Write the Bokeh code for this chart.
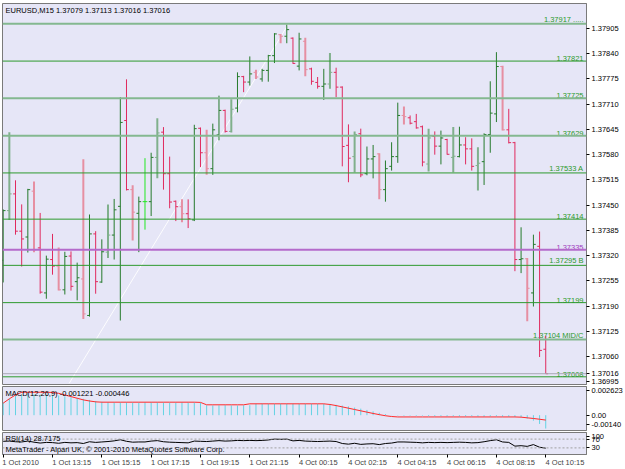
import numpy as np
from bokeh.plotting import figure
from bokeh.layouts import column
from bokeh.models import (FixedTicker, Range1d, Span, Label, ColumnDataSource,
                          PrintfTickFormatter, LinearAxis)
from bokeh.embed import file_html
from bokeh.resources import INLINE
from bokeh.core.properties import value

# ---------------- data ----------------
chart_title = "EURUSD,M15  1.37079 1.37113 1.37016 1.37016"
macd_title = "MACD(12,26,9) -0.001221 -0.000446"
rsi_title = "RSI(14) 28.7175"
copyright_text = "MetaTrader - Alpari UK, \u00a9 2001-2010 MetaQuotes Software Corp."

time_tick_bars = [0, 8, 16, 24, 32, 40, 48, 56, 64, 72, 80, 88]
time_tick_labels = ["1 Oct 2010", "1 Oct 13:15", "1 Oct 15:15", "1 Oct 17:15",
                    "1 Oct 19:15", "1 Oct 21:15", "4 Oct 00:15", "4 Oct 02:15",
                    "4 Oct 04:15", "4 Oct 06:15", "4 Oct 08:15", "4 Oct 10:15"]

price_ticks = [1.36995, 1.37060, 1.37125, 1.37190, 1.37255, 1.37320, 1.37385,
               1.37450, 1.37515, 1.37580, 1.37645, 1.37710, 1.37775, 1.37840,
               1.37905]

opens = [1.37308, 1.37436, 1.37479, 1.37383, 1.37368, 1.37486, 1.37340, 1.37224, 1.37310, 1.37293,
         1.37232, 1.37319, 1.37253, 1.37260, 1.37166, 1.37376, 1.37252, 1.37329, 1.37373, 1.37447,
         1.37668, 1.37490, 1.37429, 1.37459, 1.37459, 1.37573, 1.37638, 1.37531, 1.37460, 1.37446,
         1.37428, 1.37412, 1.37648, 1.37585, 1.37544, 1.37631, 1.37694, 1.37640, 1.37700, 1.37781,
         1.37767, 1.37792, 1.37775, 1.37797, 1.37835, 1.37889, 1.37885, 1.37880, 1.37808, 1.37872,
         1.37801, 1.37766, 1.37756, 1.37762, 1.37792, 1.37754, 1.37604, 1.37575, 1.37634, 1.37531,
         1.37569, 1.37582, 1.37490, 1.37550, 1.37575, 1.37681, 1.37675, 1.37665, 1.37652, 1.37556,
         1.37627, 1.37602, 1.37619, 1.37573, 1.37575, 1.37605, 1.37595, 1.37552, 1.37562, 1.37632,
         1.37685, 1.37807, 1.37644, 1.37611, 1.37310, 1.37312, 1.37224, 1.37344, 1.37079]
highs = [1.37439, 1.37638, 1.37514, 1.37452, 1.37492, 1.37511, 1.37430, 1.37320, 1.37376, 1.37341,
         1.37330, 1.37331, 1.37302, 1.37568, 1.37426, 1.37383, 1.37362, 1.37452, 1.37466, 1.37728,
         1.37774, 1.37501, 1.37472, 1.37571, 1.37585, 1.37674, 1.37651, 1.37575, 1.37462, 1.37465,
         1.37465, 1.37657, 1.37650, 1.37644, 1.37660, 1.37732, 1.37696, 1.37723, 1.37792, 1.37783,
         1.37833, 1.37799, 1.37801, 1.37837, 1.37893, 1.37891, 1.37915, 1.37882, 1.37894, 1.37881,
         1.37804, 1.37780, 1.37801, 1.37842, 1.37804, 1.37756, 1.37658, 1.37640, 1.37647, 1.37601,
         1.37605, 1.37584, 1.37565, 1.37612, 1.37714, 1.37704, 1.37681, 1.37685, 1.37655, 1.37647,
         1.37640, 1.37642, 1.37621, 1.37651, 1.37652, 1.37625, 1.37622, 1.37599, 1.37635, 1.37769,
         1.37844, 1.37809, 1.37698, 1.37613, 1.37393, 1.37314, 1.37374, 1.37382, 1.37113]
lows = [1.37251, 1.37412, 1.37374, 1.37292, 1.37328, 1.37329, 1.37222, 1.37209, 1.37271, 1.37230,
        1.37220, 1.37230, 1.37205, 1.37157, 1.37163, 1.37222, 1.37250, 1.37314, 1.37310, 1.37153,
        1.37488, 1.37359, 1.37329, 1.37387, 1.37422, 1.37519, 1.37490, 1.37442, 1.37409, 1.37406,
        1.37391, 1.37409, 1.37548, 1.37528, 1.37528, 1.37617, 1.37637, 1.37637, 1.37689, 1.37741,
        1.37758, 1.37775, 1.37768, 1.37768, 1.37816, 1.37867, 1.37867, 1.37814, 1.37797, 1.37782,
        1.37760, 1.37750, 1.37721, 1.37750, 1.37728, 1.37550, 1.37509, 1.37535, 1.37522, 1.37527,
        1.37519, 1.37465, 1.37459, 1.37539, 1.37559, 1.37658, 1.37658, 1.37647, 1.37550, 1.37537,
        1.37580, 1.37555, 1.37580, 1.37535, 1.37573, 1.37555, 1.37539, 1.37488, 1.37502, 1.37585,
        1.37664, 1.37642, 1.37609, 1.37280, 1.37275, 1.37151, 1.37189, 1.37059, 1.37016]
closes = [1.37436, 1.37479, 1.37383, 1.37363, 1.37490, 1.37335, 1.37226, 1.37311, 1.37293, 1.37232,
          1.37318, 1.37241, 1.37263, 1.37170, 1.37376, 1.37253, 1.37330, 1.37373, 1.37438, 1.37663,
          1.37490, 1.37432, 1.37459, 1.37459, 1.37573, 1.37636, 1.37531, 1.37458, 1.37446, 1.37428,
          1.37415, 1.37647, 1.37585, 1.37544, 1.37644, 1.37694, 1.37640, 1.37697, 1.37781, 1.37767,
          1.37788, 1.37780, 1.37797, 1.37835, 1.37891, 1.37885, 1.37902, 1.37815, 1.37878, 1.37799,
          1.37769, 1.37756, 1.37762, 1.37792, 1.37754, 1.37601, 1.37571, 1.37632, 1.37528, 1.37569,
          1.37575, 1.37490, 1.37544, 1.37575, 1.37681, 1.37678, 1.37661, 1.37649, 1.37561, 1.37623,
          1.37602, 1.37623, 1.37581, 1.37576, 1.37605, 1.37595, 1.37550, 1.37558, 1.37632, 1.37687,
          1.37807, 1.37644, 1.37611, 1.37310, 1.37312, 1.37236, 1.37349, 1.37076, 1.37016]

level_prices = [1.37917, 1.37821, 1.37725, 1.37629, 1.37533, 1.37414, 1.37335,
                1.37295, 1.37199, 1.37104, 1.37008]
level_labels = ["1.37917 .....", "1.37821", "1.37725", "1.37629", "1.37533 A",
                "1.37414", "1.37335", "1.37295 B", "1.37199", "1.37104 MID/C", "1.37008"]

trend_bars = [10.7, 46.3]
trend_prices = [1.36991, 1.37917]

macd_main = [0.00115, 0.00150, 0.00178, 0.00188, 0.00189, 0.00189, 0.00188, 0.00188, 0.00186, 0.00180,
             0.00172, 0.00165, 0.00158, 0.00150, 0.00140, 0.00130, 0.00122, 0.00117, 0.00116, 0.00117,
             0.00118, 0.00116, 0.00115, 0.00116, 0.00117, 0.00118, 0.00116, 0.00115, 0.00116, 0.00117,
             0.00116, 0.00115, 0.00114, 0.00090, 0.00089, 0.00090, 0.00091, 0.00089, 0.00088, 0.00090,
             0.00091, 0.00105, 0.00106, 0.00105, 0.00104, 0.00105, 0.00106, 0.00105, 0.00104, 0.00105,
             0.00105, 0.00104, 0.00103, 0.00100, 0.00095, 0.00088, 0.00080, 0.00070, 0.00060, 0.00048,
             0.00035, 0.00022, 0.00010, 0.00002, -0.00003, -0.00005, -0.00004, -0.00006, -0.00005, -0.00008,
             -0.00010, -0.00009, -0.00011, -0.00010, -0.00012, -0.00011, -0.00010, -0.00012, -0.00013, -0.00012,
             -0.00011, -0.00013, -0.00014, -0.00015, -0.00018, -0.00030, -0.00050, -0.00080, -0.001221]
macd_signal = [0.00110, 0.00150, 0.00185, 0.00210, 0.00210, 0.00210, 0.00210, 0.00210, 0.00208, 0.00200,
               0.00185, 0.00170, 0.00155, 0.00140, 0.00130, 0.00122, 0.00119, 0.00119, 0.00119, 0.00119,
               0.00119, 0.00119, 0.00119, 0.00119, 0.00119, 0.00119, 0.00119, 0.00119, 0.00119, 0.00119,
               0.00119, 0.00119, 0.00117, 0.00095, 0.00095, 0.00095, 0.00095, 0.00095, 0.00095, 0.00095,
               0.00104, 0.00104, 0.00104, 0.00104, 0.00104, 0.00104, 0.00104, 0.00104, 0.00104, 0.00104,
               0.00104, 0.00104, 0.00104, 0.00098, 0.00088, 0.00076, 0.00064, 0.00052, 0.00040, 0.00028,
               0.00016, 0.00005, -0.00005, -0.00012, -0.00016, -0.00016, -0.00016, -0.00016, -0.00016, -0.00016,
               -0.00016, -0.00016, -0.00016, -0.00016, -0.00016, -0.00016, -0.00016, -0.00016, -0.00016, -0.00016,
               -0.00016, -0.00016, -0.00016, -0.00016, -0.00018, -0.00024, -0.00030, -0.00037, -0.000446]
macd_max = 0.002623
macd_min = -0.0014
macd_axis_labels = ["0.002623", "0.00", "-0.00140"]

rsi_values = [60, 61, 58, 57, 61, 56, 52, 55, 54, 51, 55, 53, 54, 50, 58, 55, 57, 59, 62, 67,
              60, 56, 57, 57, 61, 63, 58, 56, 55, 54, 53, 61, 60, 59, 61, 63, 61, 62, 64, 63,
              64, 63, 64, 66, 70, 69, 70, 62, 64, 61, 60, 59, 60, 61, 59, 50, 47, 51, 46, 48,
              49, 45, 50, 52, 57, 57, 56, 55, 53, 55, 54, 55, 54, 55, 56, 55, 53, 54, 58, 63,
              67, 57, 55, 38, 40, 37, 45, 33, 28.7175]
rsi_levels = [30, 70]
rsi_axis_labels = ["100", "70", "30"]

# ---------------- style ----------------
FONT = "Liberation Sans"
FS = "7.5px"
BG = "#E6E6F7"
FRAME = "#7A7A7A"
GREEN = "#257A2C"
GREEN_F = "#80B08C"
RED = "#E02A5E"
RED_F = "#E68FA2"
DOJI = "#22E822"
LVL_SOLID = "#2E9A2E"
LVL_FADED = "#84B890"
LVL_PURPLE = "#B46ACB"
level_style = {"1.37917 .....": "faded", "1.37725": "faded", "1.37629": "faded",
               "1.37104 MID/C": "faded", "1.37335": "purple"}
BAR_PX = 6.25
MACD_H = 44
RSI_H = 23

n = len(closes)
x = np.arange(n)
X0 = -0.11
X1 = X0 + 592 / BAR_PX
xr = Range1d(X0, X1)

common = dict(width=625, output_backend="svg", toolbar_location=None,
              x_range=xr, x_axis_location=None, y_axis_location="right",
              min_border_left=2, min_border_right=31,
              background_fill_color=BG, border_fill_color="white",
              outline_line_color=FRAME, outline_line_width=1)


def style_yaxis(ax):
    ax.axis_line_color = FRAME
    ax.major_tick_line_color = "black"
    ax.major_tick_out = 3
    ax.major_tick_in = 0
    ax.minor_tick_line_color = None
    ax.major_label_text_font = FONT
    ax.major_label_text_font_size = FS
    ax.major_label_text_color = "black"
    ax.major_label_standoff = 2


# ---------------- main price panel ----------------
P_TOP = 1.379693
P_BOT = 1.369882
main = figure(height=385, y_range=Range1d(P_BOT, P_TOP),
              min_border_top=3, min_border_bottom=1, **common)
main.grid.visible = False
style_yaxis(main.yaxis[0])
main.yaxis[0].ticker = FixedTicker(ticks=price_ticks + [closes[-1]])
main.yaxis[0].formatter = PrintfTickFormatter(format="%.5f")

for lp, ll in zip(level_prices, level_labels):
    kind = level_style.get(ll, "solid")
    col = {"solid": LVL_SOLID, "faded": LVL_FADED, "purple": LVL_PURPLE}[kind]
    lw = 1 if kind == "solid" else 2
    main.add_layout(Span(location=lp, dimension="width", line_color=col, line_width=lw))
    tcol = "#A040C0" if kind == "purple" else "#2A9A2A"
    main.text(x=[X1], y=[lp], text=[ll], text_font=value(FONT), text_font_size=FS,
              text_color=tcol, text_align="right", text_baseline="bottom",
              x_offset=-3, y_offset=0)

main.add_layout(Span(location=closes[-1], dimension="width", line_color="#A9A9B4", line_width=1))
main.line(trend_bars, trend_prices, line_color="white", line_width=1, line_alpha=0.9)

o = np.array(opens); h = np.array(highs); l = np.array(lows); c = np.array(closes)
faded = (x % 4) == 1
cols = []
for i in range(n):
    if abs(c[i] - o[i]) < 1e-9:
        cols.append(DOJI)
    elif c[i] > o[i]:
        cols.append(GREEN_F if faded[i] else GREEN)
    else:
        cols.append(RED_F if faded[i] else RED)
widths = [2 if f else 1 for f in faded]
src = ColumnDataSource(dict(x=x, o=o, h=h, l=l, c=c, col=cols, w=widths,
                            xl=x - 0.38, xr=x + 0.38))
main.segment(x0="x", y0="l", x1="x", y1="h", source=src, line_color="col", line_width="w")
main.segment(x0="xl", y0="o", x1="x", y1="o", source=src, line_color="col", line_width=1)
main.segment(x0="x", y0="c", x1="xr", y1="c", source=src, line_color="col", line_width=1)

main.add_layout(Label(x=X0, y=P_TOP, text=chart_title, x_offset=3, y_offset=-2,
                      text_baseline="top", text_font=FONT, text_font_size=FS,
                      text_color="black"))

# ---------------- MACD panel ----------------
MACD_PX = (macd_max - macd_min) / MACD_H
macd_tick_pos = [macd_max - 4 * MACD_PX, 0.0, macd_min + 6.5 * MACD_PX]
macd = figure(height=46, y_range=Range1d(macd_min, macd_max),
              min_border_top=1, min_border_bottom=1, **common)
macd.grid.visible = False
style_yaxis(macd.yaxis[0])
macd.yaxis[0].ticker = FixedTicker(ticks=macd_tick_pos)
macd.yaxis[0].major_label_overrides = {t: s for t, s in zip(macd_tick_pos, macd_axis_labels)}
macd.segment(x0=x, y0=np.zeros(n), x1=x, y1=macd_main, line_color="#63D3E3", line_width=1)
macd.line(x, macd_signal, line_color="#FF2A2A", line_width=1)
macd.add_layout(Label(x=X0, y=macd_max, text=macd_title, x_offset=3, y_offset=-2,
                      text_baseline="top", text_font=FONT, text_font_size=FS,
                      text_color="black"))

# ---------------- RSI panel ----------------
RSI_PX = 100.0 / RSI_H
rsi_tick_pos = [100 - 4 * RSI_PX, 70, 30]
rcommon = dict(common)
rcommon["x_axis_location"] = None
rsi = figure(height=38, y_range=Range1d(0, 100), min_border_top=1, min_border_bottom=1,
             **rcommon)
rsi.grid.visible = False
style_yaxis(rsi.yaxis[0])
rsi.yaxis[0].ticker = FixedTicker(ticks=rsi_tick_pos)
rsi.yaxis[0].major_label_overrides = {t: s for t, s in zip(rsi_tick_pos, rsi_axis_labels)}
for lv in rsi_levels:
    rsi.add_layout(Span(location=lv, dimension="width", line_color="#A0A0A0",
                        line_width=1, line_dash="2 2"))
rsi.line(x, rsi_values, line_color="black", line_width=1)
rsi.add_layout(Label(x=X0, y=100, text=rsi_title, x_offset=3, y_offset=-1,
                     text_baseline="top", text_font=FONT, text_font_size=FS,
                     text_color="black"))
rsi.add_layout(Label(x=X0, y=0, text=copyright_text, x_offset=3, y_offset=1,
                     text_baseline="bottom", text_font=FONT, text_font_size=FS,
                     text_color="black"))

# time axis: tick marks at the bars, labels starting at the ticks
tick_axis = LinearAxis(ticker=FixedTicker(ticks=time_tick_bars),
                       major_label_text_font_size="0px", major_label_text_color=None,
                       major_tick_out=3, major_tick_in=0,
                       minor_tick_line_color=None, axis_line_color=FRAME,
                       major_label_standoff=0)
label_pos = [b + (len(s) * 3.45 + 1) / 2 / BAR_PX for b, s in zip(time_tick_bars, time_tick_labels)]
label_axis = LinearAxis(ticker=FixedTicker(ticks=label_pos),
                        major_label_overrides={p: s for p, s in zip(label_pos, time_tick_labels)},
                        major_label_text_font=FONT, major_label_text_font_size=FS,
                        major_tick_out=0, major_tick_in=0, minor_tick_line_color=None,
                        axis_line_color=None, major_label_standoff=0)
rsi.add_layout(tick_axis, "below")
rsi.add_layout(label_axis, "below")

layout = column(main, macd, rsi, spacing=0)
open("out.html", "w").write(file_html(layout, INLINE))
